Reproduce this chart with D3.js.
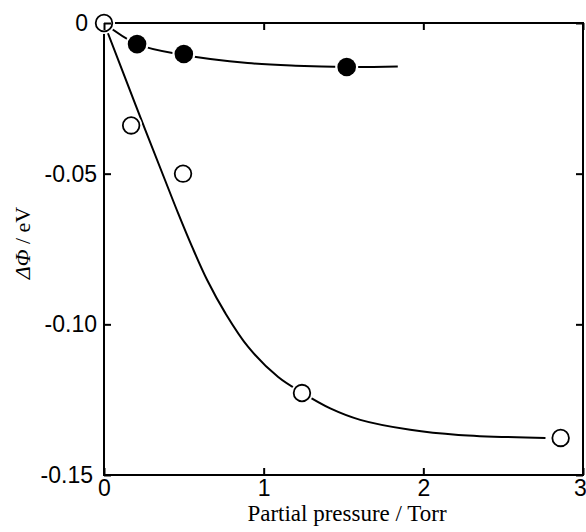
<!DOCTYPE html>
<html><head><meta charset="utf-8">
<script src="https://cdn.jsdelivr.net/npm/d3@7"></script>
<style>body{margin:0;background:#fff}svg{display:block}</style>
</head><body>
<script>
// Data
const openPts = [[0,0],[0.17,-0.034],[0.495,-0.050],[1.24,-0.1228],[2.86,-0.1377]];
const filledPts = [[0.207,-0.0070],[0.50,-0.0103],[1.52,-0.0146]];
const openCurve = [[0,0],[0.20,-0.0275],[0.382,-0.0521],[0.464,-0.0631],[0.552,-0.0743],[0.646,-0.0853],[0.759,-0.0962],[0.903,-0.1075],[1.091,-0.1175],[1.241,-0.1227],[1.417,-0.1279],[1.605,-0.1317],[1.918,-0.1350],[2.22,-0.1367],[2.765,-0.1377]];
const filledCurve = [[0,0],[0.207,-0.0070],[0.50,-0.0106],[0.9,-0.0133],[1.2,-0.0142],[1.52,-0.0146],[1.84,-0.0144]];
const xTicks = [0,1,2,3];
const yTicks = [0,-0.05,-0.10,-0.15];
const yTickLabels = ["0","-0.05","-0.10","-0.15"];

const W=586,H=532;
const m={l:104,t:23,r:3,b:57};
const svg=d3.select("body").append("svg").attr("width",W).attr("height",H);
const x=d3.scaleLinear().domain([0,3]).range([m.l,W-m.r]);
const y=d3.scaleLinear().domain([-0.15,0]).range([H-m.b,m.t]);

const font="Liberation Sans, Arial, Helvetica, sans-serif";
const g=svg.append("g");

// curves
const line=d3.line().x(d=>x(d[0])).y(d=>y(d[1])).curve(d3.curveCatmullRom.alpha(0.5));
g.append("path").datum(openCurve).attr("d",line).attr("fill","none").attr("stroke","#000").attr("stroke-width",2);
g.append("path").datum(filledCurve).attr("d",line).attr("fill","none").attr("stroke","#000").attr("stroke-width",2);

// frame
g.append("rect").attr("x",x(0)).attr("y",y(0)).attr("width",x(3)-x(0)).attr("height",y(-0.15)-y(0))
 .attr("fill","none").attr("stroke","#000").attr("stroke-width",2);

// axes with inward ticks
const tl=7;
const xb=d3.axisBottom(x).tickValues(xTicks).tickSize(-tl).tickPadding(5).tickFormat(d3.format("d"));
const xt=d3.axisTop(x).tickValues(xTicks).tickSize(-tl).tickFormat("");
const yl=d3.axisLeft(y).tickValues(yTicks).tickSize(-tl).tickPadding(7).tickFormat((d,i)=>yTickLabels[i]);
const yr=d3.axisRight(y).tickValues(yTicks).tickSize(-tl).tickFormat("");
function style(sel){sel.select(".domain").remove();sel.selectAll(".tick line").attr("stroke","#000").attr("stroke-width",2);
 sel.selectAll("text").attr("font-family",font).attr("font-size",23).attr("fill","#000");}
const gxb=svg.append("g").attr("transform",`translate(0,${y(-0.15)})`).call(xb).call(style);
gxb.selectAll(".tick text").attr("dx",d=>d===3?-3:0);
svg.append("g").attr("transform",`translate(0,${y(0)})`).call(xt).call(style);
const gyl=svg.append("g").attr("transform",`translate(${x(0)},0)`).call(yl).call(style);
gyl.selectAll(".tick text").attr("dx",d=>d===0?-9:(d===-0.15?-4:0));
svg.append("g").attr("transform",`translate(${x(3)},0)`).call(yr).call(style);

// markers with white halo
g.selectAll(".oh").data(openPts).join("circle").attr("cx",d=>x(d[0])).attr("cy",d=>y(d[1])).attr("r",11).attr("fill","#fff");
g.selectAll(".fh").data(filledPts).join("circle").attr("cx",d=>x(d[0])).attr("cy",d=>y(d[1])).attr("r",11.5).attr("fill","#fff");
g.selectAll(".o").data(openPts).join("circle").attr("cx",d=>x(d[0])).attr("cy",d=>y(d[1])).attr("r",8.3).attr("fill","#fff").attr("stroke","#000").attr("stroke-width",1.8);
g.selectAll(".f").data(filledPts).join("circle").attr("cx",d=>x(d[0])).attr("cy",d=>y(d[1])).attr("r",9.3).attr("fill","#000");

// titles
svg.append("text").attr("x",347).attr("y",521).attr("text-anchor","middle")
 .attr("font-family","Liberation Serif, Times New Roman, serif").attr("font-size",23).text("Partial pressure / Torr");
const yt=svg.append("text").attr("transform","translate(30,243) rotate(-90)").attr("text-anchor","middle")
 .attr("font-family","Liberation Serif, Times New Roman, serif").attr("font-size",22);
yt.append("tspan").attr("font-style","italic").text("ΔΦ");
yt.append("tspan").text(" / eV");
</script>
</body></html>
